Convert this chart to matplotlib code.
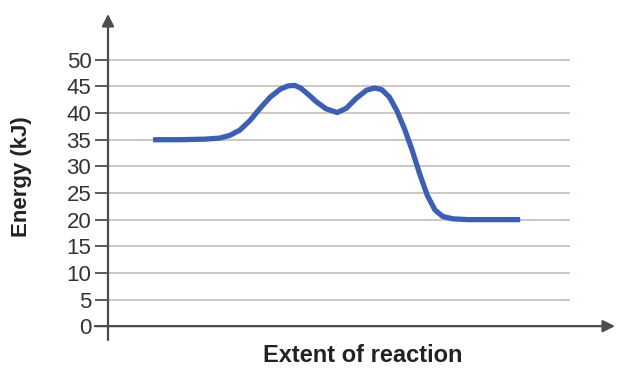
import matplotlib
matplotlib.use("Agg")
import matplotlib.pyplot as plt

plt.rcParams['font.family'] = ['Liberation Sans', 'DejaVu Sans']

# Data (x = extent of reaction, arbitrary 0-100 scale)
extent = [8.9, 14, 19, 22, 24, 26, 28, 30, 32, 34, 35.5, 36.8, 38, 39.5, 41,
          43, 45.2, 47, 49, 51, 52.6, 54, 55.5, 57, 58.5, 60, 61.5, 63,
          64.5, 66, 68, 71, 76, 81.3]
energy = [35, 35, 35.1, 35.3, 35.8, 36.8, 38.6, 40.9, 43.0, 44.5, 45.1, 45.2,
          44.7, 43.5, 42.2, 40.8, 40.1, 40.9, 42.8, 44.3, 44.7, 44.4, 43.0, 40.4,
          37.0, 33.0, 28.5, 24.5, 21.8, 20.6, 20.15, 20, 20, 20]
yticks = [0, 5, 10, 15, 20, 25, 30, 35, 40, 45, 50]

W, H = 621, 368
fig = plt.figure(figsize=(W / 100, H / 100), dpi=100)
ax = fig.add_axes([108 / W, 1 - 340 / H, (615 - 108) / W, (340 - 14) / H])
ax.set_xlim(0, 100)
ax.set_ylim(-2.6, 58.6)

axis_color = '#4d4d4d'
grid_color = '#c9c1bd'

# gridlines
ax.hlines(yticks[1:], 0, (570 - 108) / 5.07, color=grid_color, lw=1.3, zorder=1)

# curve
ax.plot(extent, energy, color='#3d5fb3', lw=3.8, solid_capstyle='butt',
        solid_joinstyle='round', zorder=3)

for s in ax.spines.values():
    s.set_visible(False)

ax.set_xticks([])
ax.set_yticks(yticks)
ax.set_yticklabels([str(v) for v in yticks], fontsize=16, color='#333333')
ax.tick_params(axis='y', length=9.5, width=1.3, color=axis_color, pad=2.5)

# axes arrows
ax.annotate('', xy=(0, 1), xycoords='axes fraction', xytext=(0, 0),
            textcoords='axes fraction',
            arrowprops=dict(arrowstyle='-|>', mutation_scale=18, lw=1.6,
                            color=axis_color, shrinkA=0, shrinkB=0))
ax.annotate('', xy=(1, 0), xycoords=('axes fraction', 'data'), xytext=(-2.6, 0),
            textcoords=('data', 'data'),
            arrowprops=dict(arrowstyle='-|>', mutation_scale=18, lw=1.6,
                            color=axis_color, shrinkA=0, shrinkB=0))

fig.text(363 / W, 1 - 355 / H, 'Extent of reaction', ha='center', va='center',
         fontsize=17, fontweight='bold', color='#222222')
fig.text(22 / W, 1 - 177 / H, 'Energy (kJ)', ha='center', va='center',
         rotation=90, fontsize=16, fontweight='bold', color='#222222')

fig.savefig('out.png', dpi=100, facecolor='white')
